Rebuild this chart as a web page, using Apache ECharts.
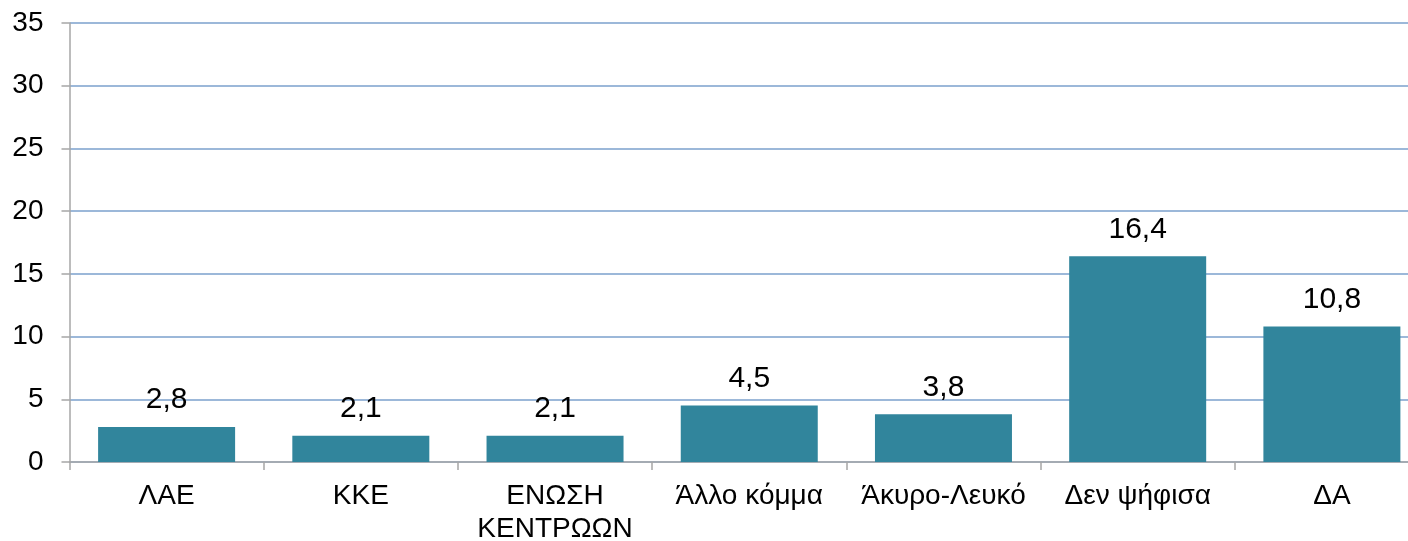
<!DOCTYPE html>
<html>
<head>
<meta charset="utf-8">
<script src="https://cdn.jsdelivr.net/npm/echarts@6/dist/echarts.min.js"></script>
<style>
  html, body { margin: 0; padding: 0; background: #fff; }
  #wrap { width: 1408px; height: 541px; overflow: hidden; position: relative; }
</style>
</head>
<body>
<!-- the plot runs a little past the right edge of the window, like the original -->
<div id="wrap"><div id="chart" style="width:1429px;height:541px;"></div></div>
<script>
  // κατηγορίες και τιμές
  var categories = ['ΛΑΕ', 'ΚΚΕ', 'ΕΝΩΣΗ\nΚΕΝΤΡΩΩΝ', 'Άλλο κόμμα', 'Άκυρο-Λευκό', 'Δεν ψήφισα', 'ΔΑ'];
  var values = [2.8, 2.1, 2.1, 4.5, 3.8, 16.4, 10.8];
  var yTicks = [0, 5, 10, 15, 20, 25, 30, 35];

  var chart = echarts.init(document.getElementById('chart'));
  chart.setOption({
    animation: false,
    textStyle: { fontFamily: 'Liberation Sans, Arial, sans-serif' },
    grid: {
      left: 69.5,
      right: 0,
      top: 23,
      bottom: 79,
      containLabel: false,
      outerBoundsMode: 'none'
    },
    xAxis: {
      type: 'category',
      data: categories,
      axisLine: { lineStyle: { color: '#A6A6A6', width: 1.5 } },
      axisTick: { show: true, length: 8, lineStyle: { color: '#A6A6A6', width: 1.5 } },
      axisLabel: {
        color: '#000',
        fontSize: 28,
        lineHeight: 33,
        margin: 18,
        interval: 0
      }
    },
    yAxis: {
      type: 'value',
      min: yTicks[0],
      max: yTicks[yTicks.length - 1],
      interval: 5,
      axisLine: { show: true, lineStyle: { color: '#A6A6A6', width: 1.5 } },
      axisTick: { show: true, length: 8, lineStyle: { color: '#A6A6A6', width: 1.5 } },
      splitLine: { lineStyle: { color: '#7BA0CD', width: 1.5 } },
      axisLabel: { color: '#000', fontSize: 28, margin: 26 }
    },
    series: [{
      type: 'bar',
      data: values,
      barWidth: 137,
      itemStyle: { color: '#31859C' },
      label: {
        show: true,
        position: 'top',
        distance: 12,
        color: '#000',
        fontSize: 30,
        formatter: function (p) { return String(p.value).replace('.', ','); }
      }
    }]
  });
</script>
</body>
</html>
